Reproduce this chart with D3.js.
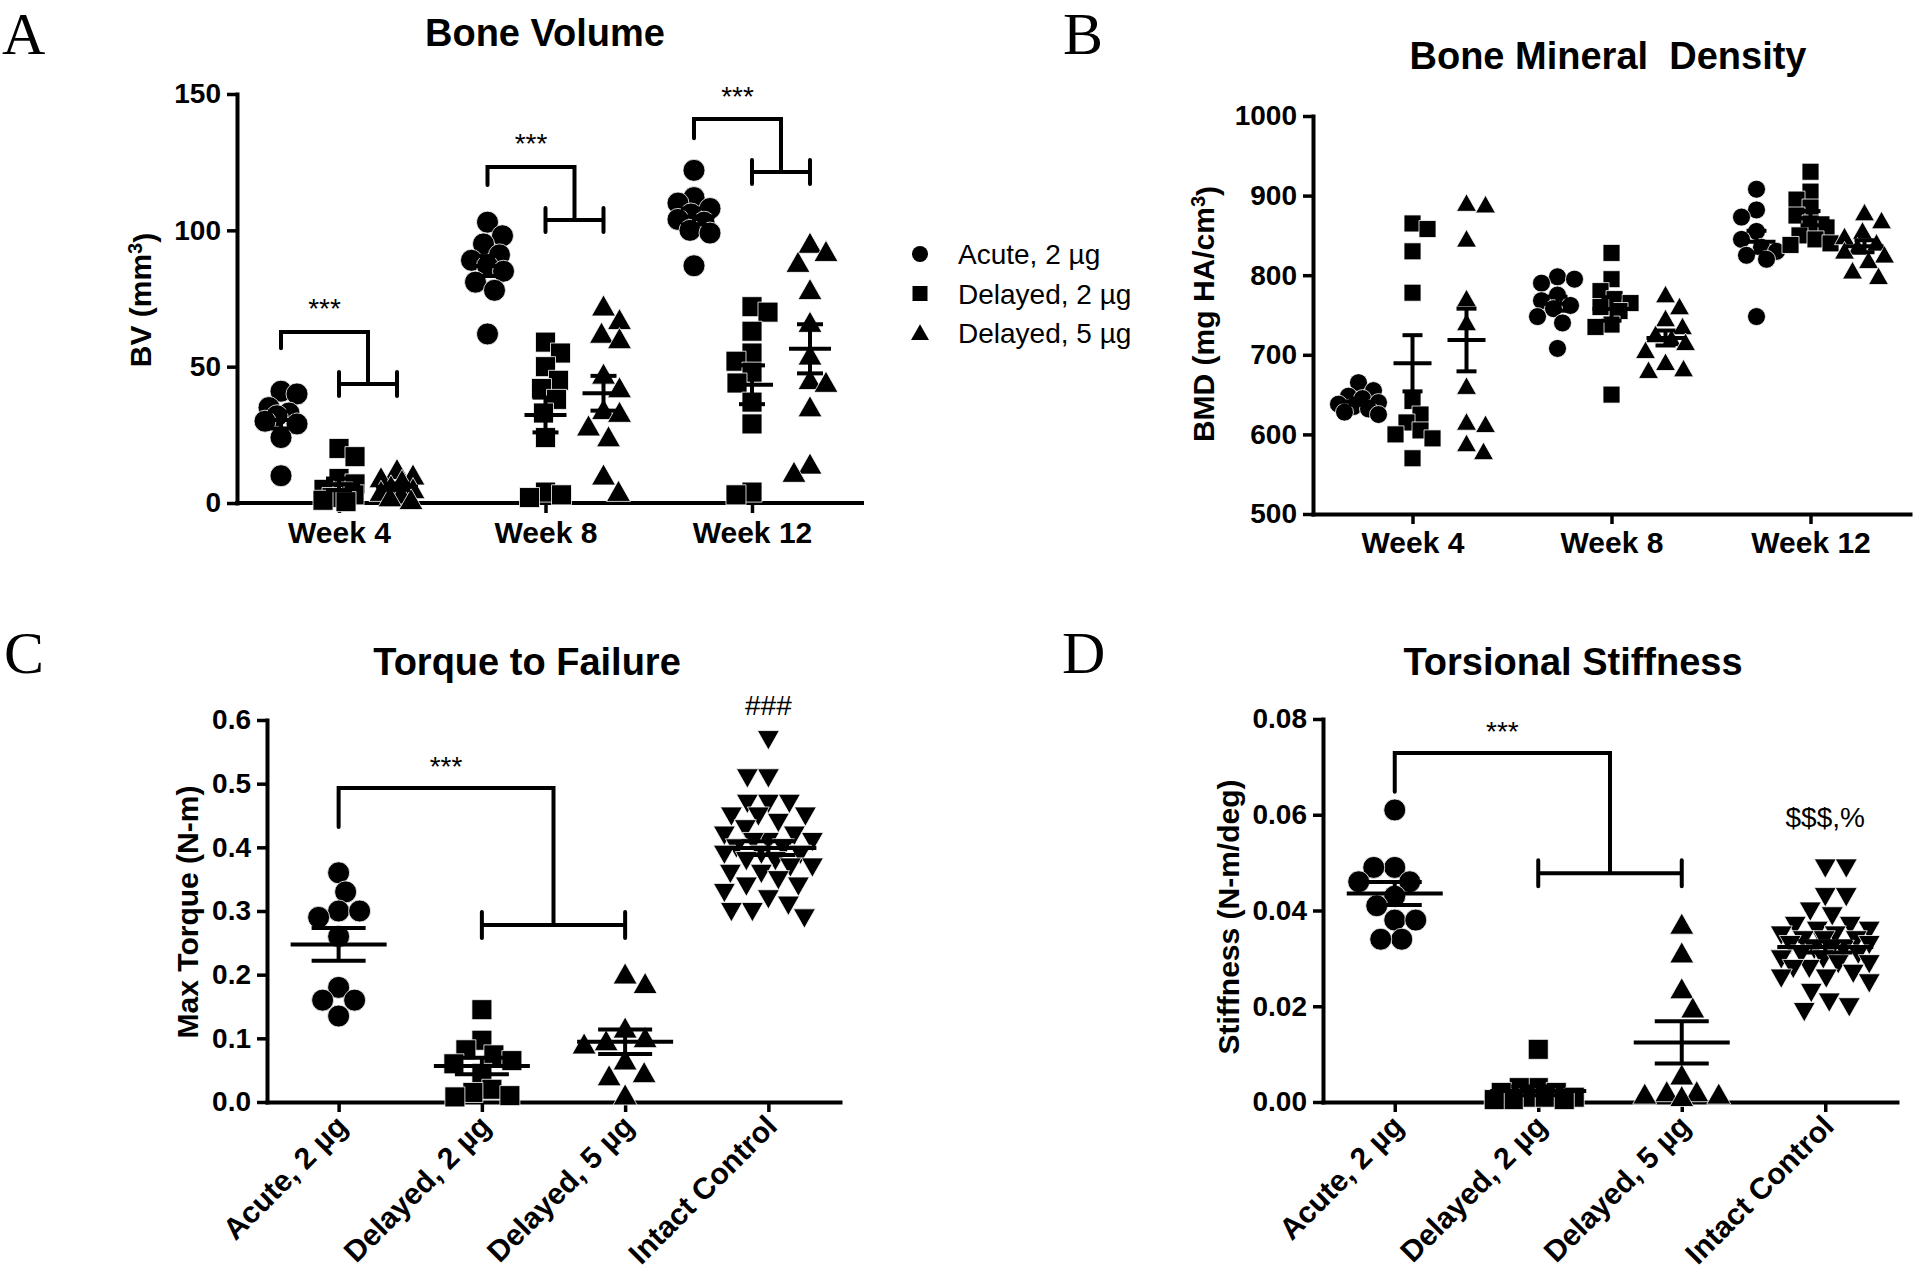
<!DOCTYPE html>
<html><head><meta charset="utf-8">
<script src="https://cdn.jsdelivr.net/npm/d3@7"></script>
<style>
body{margin:0;background:#fff}
svg{display:block}
</style>
</head><body>
<svg id="fig" width="1920" height="1280"></svg>
<script>
// ---------------- DATA ----------------
const groups = ["Acute, 2 µg", "Delayed, 2 µg", "Delayed, 5 µg"];
const groupsCD = ["Acute, 2 µg", "Delayed, 2 µg", "Delayed, 5 µg", "Intact Control"];
const weeks = ["Week 4", "Week 8", "Week 12"];
const ticksA = [0, 50, 100, 150];
const ticksB = [500, 600, 700, 800, 900, 1000];
const ticksC = [0, 0.1, 0.2, 0.3, 0.4, 0.5, 0.6];
const ticksD = [0, 0.02, 0.04, 0.06, 0.08];

// Panel A: bone volume (mm^3), one list per week
const bvAcute = [
  [41, 40, 35, 33, 32, 30, 29, 24, 10],
  [103, 98, 95, 91, 89, 87, 85, 81, 78, 62],
  [122, 112, 110, 108, 106, 104, 103, 100, 99, 87]
];
const bvDelayed2 = [
  [20, 17, 9, 7, 5, 4, 3, 2, 1, 0.5],
  [59, 55, 50, 45, 42, 38, 33, 24, 4, 3, 2],
  [72, 70, 63, 55, 52, 48, 44, 37, 29, 4, 3]
];
const bvDelayed5 = [
  [12, 10, 9, 8, 6, 5, 4, 3, 2, 1],
  [72, 67, 62, 60, 47, 42, 34, 33, 28, 24, 10, 4],
  [95, 92, 88, 78, 66, 54, 45, 44, 35, 14, 11]
];

// Panel B: BMD (mg HA/cm^3)
const bmdAcute = [
  [665, 655, 648, 645, 640, 638, 635, 632, 628, 625],
  [798, 795, 790, 775, 768, 762, 758, 748, 740, 708],
  [908, 882, 873, 855, 845, 835, 830, 825, 820, 748]
];
const bmdDelayed2 = [
  [865, 858, 830, 778, 642, 625, 615, 605, 600, 595, 570],
  [828, 795, 780, 770, 765, 760, 755, 738, 735, 650],
  [930, 905, 895, 885, 875, 865, 860, 850, 845, 840, 838]
];
const bmdDelayed5 = [
  [890, 888, 845, 770, 740, 660, 615, 612, 588, 578],
  [775, 760, 745, 735, 725, 720, 715, 705, 690, 682, 680],
  [878, 868, 855, 848, 840, 835, 830, 825, 818, 805, 798]
];

// Panel C: max torque (N-m)
const torqueAcute = [0.36, 0.33, 0.30, 0.30, 0.29, 0.26, 0.18, 0.16, 0.16, 0.135];
const torqueDelayed2 = [0.145, 0.097, 0.082, 0.074, 0.065, 0.06, 0.045, 0.02, 0.015, 0.01, 0.008];
const torqueDelayed5 = [0.20, 0.185, 0.115, 0.10, 0.095, 0.09, 0.065, 0.045, 0.04, 0.01];
const torqueIntact = [0.57, 0.51, 0.51, 0.47, 0.47, 0.47, 0.45, 0.45, 0.45, 0.44, 0.43, 0.42,
  0.42, 0.41, 0.41, 0.41, 0.40, 0.40, 0.39, 0.39, 0.39, 0.38, 0.38, 0.37, 0.37, 0.36,
  0.36, 0.35, 0.34, 0.34, 0.33, 0.32, 0.31, 0.30, 0.30, 0.29];

// Panel D: torsional stiffness (N-m/deg)
const stiffAcute = [0.061, 0.049, 0.049, 0.046, 0.046, 0.043, 0.041, 0.038, 0.038, 0.034, 0.034];
const stiffDelayed2 = [0.011, 0.003, 0.003, 0.002, 0.002, 0.001, 0.001, 0.001, 0.0005, 0.0005, 0.0005];
const stiffDelayed5 = [0.037, 0.031, 0.0235, 0.0195, 0.0055, 0.002, 0.002, 0.0015, 0.0015, 0.001];
const stiffIntact = [0.049, 0.049, 0.043, 0.043, 0.040, 0.039, 0.037, 0.037, 0.036, 0.036, 0.035,
  0.035, 0.034, 0.034, 0.034, 0.033, 0.033, 0.032, 0.032, 0.032, 0.031, 0.031, 0.030, 0.030,
  0.029, 0.029, 0.028, 0.028, 0.027, 0.026, 0.026, 0.025, 0.023, 0.021, 0.019, 0.020];

// Significance annotations (data units)
const bracketsA = [
  {week: "Week 4", top: 62.7, leg: 56.8, low: 43.6, star: 73.7},
  {week: "Week 8", top: 123.2, leg: 116.6, low: 103.8, star: 134.2},
  {week: "Week 12", top: 140.8, leg: 133.8, low: 121.4, star: 151.4}
];
const bracketC = {top: 0.493, leg: 0.432, low: 0.278, star: 0.537};
const bracketD = {top: 0.0729, leg: 0.0648, low: 0.0478, star: 0.0787};
const noteC = {label: "###", value: 0.623};
const noteD = {label: "$$$,%", value: 0.0595};

// ---------------- DRAWING ----------------
const SANS = '"Liberation Sans", Arial, Helvetica, sans-serif';
const SERIF = '"Liberation Serif", "Times New Roman", serif';
const svg = d3.select("#fig");
svg.append("rect").attr("width", 1920).attr("height", 1280).attr("fill", "#fff");

function shape(type, s) {
  const r = s / 2, h = s * 0.88;
  if (type === "circle") return `M${r},0A${r},${r} 0 1,1 ${-r},0A${r},${r} 0 1,1 ${r},0Z`;
  if (type === "square") return `M${-r},${-r}H${r}V${r}H${-r}Z`;
  if (type === "triangle") return `M0,${-h * 0.56}L${r},${h * 0.44}L${-r},${h * 0.44}Z`;
  return `M0,${h * 0.56}L${r},${-h * 0.44}L${-r},${-h * 0.44}Z`;
}

function swarm(vals, y, d, maxW) {
  const pts = vals.map(v => ({v, py: y(v)})).sort((a, b) => a.py - b.py);
  const placed = [];
  pts.forEach((p, i) => {
    let best = 0, bestScore = -1;
    for (let k = 0; k <= maxW; k += 1) {
      const cands = k === 0 ? [0] : (i % 2 ? [k, -k] : [-k, k]);
      let done = false;
      for (const dx of cands) {
        let mind = Infinity;
        for (const q of placed) {
          const dd = Math.hypot(dx - q.dx, p.py - q.py);
          if (dd < mind) mind = dd;
        }
        if (mind >= d) { best = dx; done = true; break; }
        if (mind > bestScore) { bestScore = mind; best = dx; }
      }
      if (done) break;
    }
    p.dx = best;
    placed.push(p);
  });
  return pts;
}

function drawGroup(g, vals, cx, y, o) {
  const pts = swarm(vals, y, o.size * 0.92, o.maxW);
  g.append("g").selectAll("path").data(pts).join("path")
    .attr("d", shape(o.type, o.size))
    .attr("transform", p => `translate(${cx + p.dx},${p.py})`)
    .attr("fill", "#000").attr("stroke", "#fff").attr("stroke-width", 0.8);
  const m = d3.mean(vals), se = d3.deviation(vals) / Math.sqrt(vals.length);
  const segs = [
    [cx - o.meanHW, y(m), cx + o.meanHW, y(m)],
    [cx, y(m - se), cx, y(m + se)],
    [cx - o.capHW, y(m + se), cx + o.capHW, y(m + se)],
    [cx - o.capHW, y(m - se), cx + o.capHW, y(m - se)]
  ];
  g.append("g").selectAll("line").data(segs).join("line")
    .attr("x1", s => s[0]).attr("y1", s => s[1]).attr("x2", s => s[2]).attr("y2", s => s[3])
    .attr("stroke", "#000").attr("stroke-width", 4);
}

function bracket(g, xL, xa, xb, y, b, cap) {
  const xm = (xa + xb) / 2;
  const p = d3.path();
  p.moveTo(xL, y(b.leg)); p.lineTo(xL, y(b.top)); p.lineTo(xm, y(b.top)); p.lineTo(xm, y(b.low));
  p.moveTo(xa, y(b.low)); p.lineTo(xb, y(b.low));
  p.moveTo(xa, y(b.low) - cap); p.lineTo(xa, y(b.low) + cap);
  p.moveTo(xb, y(b.low) - cap); p.lineTo(xb, y(b.low) + cap);
  g.append("path").attr("d", p.toString()).attr("fill", "none")
    .attr("stroke", "#000").attr("stroke-width", 4).attr("stroke-linecap", "round");
  g.append("text").attr("x", (xL + xm) / 2).attr("y", y(b.star)).attr("dy", "0.57em")
    .attr("text-anchor", "middle").attr("font-family", SANS).attr("font-size", 28).text("***");
}

function axes(g, x, y, ticks, fmt, rotated, xPad, xEnd) {
  const ya = d3.axisLeft(y).tickValues(ticks).tickFormat(d3.format(fmt)).tickSize(10).tickPadding(6).tickSizeOuter(0);
  const gy = g.append("g").attr("transform", `translate(${x.range()[0]},0)`).call(ya);
  const xa = d3.axisBottom(x).tickSize(10).tickPadding(xPad).tickSizeOuter(0);
  const gx = g.append("g").attr("transform", `translate(0,${y.range()[0]})`).call(xa);
  if (xEnd) gx.select(".domain").attr("d", `M${x.range()[0]},0H${xEnd}`);
  [gx, gy].forEach(a => {
    a.attr("font-family", SANS).attr("font-size", 28).attr("font-weight", "bold");
    a.select(".domain").attr("stroke-width", 4).attr("stroke-linecap", "square");
    a.selectAll(".tick line").attr("stroke-width", 3.5);
    a.selectAll(".tick text").attr("fill", "#000");
  });
  gx.attr("font-size", 30);
  if (rotated) {
    gx.selectAll(".tick text").attr("x", 0).attr("y", 0).attr("dy", 0)
      .attr("text-anchor", "end").attr("transform", "translate(10,26) rotate(-45)");
  }
}

function titles(g, t, tx, ty, ylab, lx, ly, letter, letX, letY) {
  g.append("text").attr("x", tx).attr("y", ty).attr("text-anchor", "middle")
    .attr("font-family", SANS).attr("font-weight", "bold").attr("font-size", 38).attr("xml:space", "preserve").text(t);
  const yl = g.append("text").attr("transform", `translate(${lx},${ly}) rotate(-90)`)
    .attr("text-anchor", "middle").attr("dy", "0.35em")
    .attr("font-family", SANS).attr("font-weight", "bold").attr("font-size", 30);
  ylab(yl);
  g.append("text").attr("x", letX).attr("y", letY).attr("font-family", SERIF).attr("font-size", 60).text(letter);
}

const sizes = {
  A: {circle: 22, square: 20, triangle: 24, maxW: 16, meanHW: 21, capHW: 13},
  B: {circle: 18, square: 17, triangle: 20, maxW: 20, meanHW: 19, capHW: 10},
  CD: {circle: 22, square: 20, triangle: 24, down: 22, maxW: 44, meanHW: 48, capHW: 27}
};
const types = ["circle", "square", "triangle"];

// ---- Panel A ----
{
  const g = svg.append("g");
  const x = d3.scalePoint().domain(weeks).range([237, 854]).padding(0.494);
  const sub = d3.scalePoint().domain(groups).range([-58, 58]);
  const y = d3.scaleLinear().domain([0, 150]).range([503, 94]);
  axes(g, x, y, ticksA, "d", false, 9, 862);
  const series = [bvAcute, bvDelayed2, bvDelayed5];
  weeks.forEach((w, wi) => {
    groups.forEach((gr, gi) => {
      const s = sizes.A;
      drawGroup(g, series[gi][wi], x(w) + sub(gr), y,
        {type: types[gi], size: s[types[gi]], maxW: s.maxW, meanHW: s.meanHW, capHW: s.capHW});
    });
  });
  bracketsA.forEach(b => {
    bracket(g, x(b.week) + sub(groups[0]), x(b.week) + sub(groups[1]), x(b.week) + sub(groups[2]), y, b, 12);
  });
  titles(g, "Bone Volume", 545, 46, t => { t.text("BV (mm"); t.append("tspan").attr("dy", "-0.45em").attr("font-size", 20).text("3"); t.append("tspan").attr("dy", "0.45em").text(")"); },
    140, 300, "A", 2, 54);
  // legend
  const lg = g.append("g");
  const legS = {circle: 16, square: 15, triangle: 18};
  groups.forEach((gr, i) => {
    const ly = 254 + i * 39.5;
    lg.append("path").attr("d", shape(types[i], legS[types[i]])).attr("transform", `translate(920,${ly})`).attr("fill", "#000");
    lg.append("text").attr("x", 958).attr("y", ly + 10).attr("font-family", SANS).attr("font-size", 28).text(gr);
  });
}

// ---- Panel B ----
{
  const g = svg.append("g");
  const x = d3.scalePoint().domain(weeks).range([1313, 1910]).padding(0.5);
  const sub = d3.scalePoint().domain(groups).range([-54, 54]);
  const y = d3.scaleLinear().domain([500, 1000]).range([514, 116]);
  axes(g, x, y, ticksB, "d", false, 8);
  const series = [bmdAcute, bmdDelayed2, bmdDelayed5];
  weeks.forEach((w, wi) => {
    groups.forEach((gr, gi) => {
      const s = sizes.B;
      drawGroup(g, series[gi][wi], x(w) + sub(gr), y,
        {type: types[gi], size: s[types[gi]], maxW: s.maxW, meanHW: s.meanHW, capHW: s.capHW});
    });
  });
  titles(g, "Bone Mineral  Density", 1608, 69, t => { t.text("BMD (mg HA/cm"); t.append("tspan").attr("dy", "-0.45em").attr("font-size", 20).text("3"); t.append("tspan").attr("dy", "0.45em").text(")"); },
    1203, 314, "B", 1063, 54);
}

// ---- Panels C and D ----
function mechPanel(cfg) {
  const g = svg.append("g");
  const x = d3.scalePoint().domain(groupsCD).range(cfg.xr).padding(0.5);
  const y = d3.scaleLinear().domain(cfg.yd).range(cfg.yr);
  axes(g, x, y, cfg.ticks, cfg.fmt, true, 8);
  const tps = ["circle", "square", "triangle", "down"];
  cfg.series.forEach((vals, i) => {
    const s = sizes.CD;
    drawGroup(g, vals, x(groupsCD[i]), y, {type: tps[i], size: s[tps[i]], maxW: s.maxW, meanHW: s.meanHW, capHW: s.capHW});
  });
  bracket(g, x(groupsCD[0]), x(groupsCD[1]), x(groupsCD[2]), y, cfg.bracket, 13);
  g.append("text").attr("x", x(groupsCD[3])).attr("y", y(cfg.note.value)).attr("dy", "0.36em")
    .attr("text-anchor", "middle").attr("font-family", SANS).attr("font-size", 28).text(cfg.note.label);
  titles(g, cfg.title, cfg.tx, 675, t => t.text(cfg.ylab), cfg.lx, cfg.ly, cfg.letter, cfg.letX, 673);
}

mechPanel({xr: [267, 840], yd: [0, 0.6], yr: [1102, 720], ticks: ticksC, fmt: ".1f",
  series: [torqueAcute, torqueDelayed2, torqueDelayed5, torqueIntact], bracket: bracketC, note: noteC,
  title: "Torque to Failure", tx: 527, ylab: "Max Torque (N-m)", lx: 187, ly: 912, letter: "C", letX: 4});
mechPanel({xr: [1323, 1897], yd: [0, 0.08], yr: [1102, 719], ticks: ticksD, fmt: ".2f",
  series: [stiffAcute, stiffDelayed2, stiffDelayed5, stiffIntact], bracket: bracketD, note: noteD,
  title: "Torsional Stiffness", tx: 1573, ylab: "Stiffness (N-m/deg)", lx: 1228, ly: 917, letter: "D", letX: 1062});
</script>
</body></html>
